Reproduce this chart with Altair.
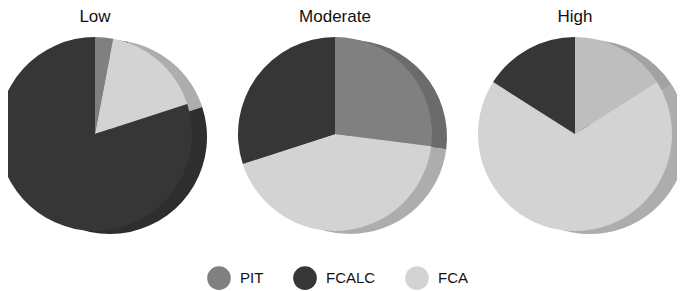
import altair as alt
import pandas as pd

levels = ["Low", "Moderate", "High"]
categories = ["PIT", "FCA", "FCALC"]
low_values = [3, 17, 80]
moderate_values = [27, 43, 30]
high_values = [16, 68, 16]

legend_order = ["PIT", "FCALC", "FCA"]
main_colors = ["#808080", "#363636", "#d3d3d3"]
shadow_colors = ["#6b6b6b", "#2e2e2e", "#adadad"]

rows = []
for lvl, vals in zip(levels, [low_values, moderate_values, high_values]):
    for cat, v in zip(categories, vals):
        rows.append({"level": lvl, "category": cat, "value": v})
df = pd.DataFrame(rows)
titles = pd.DataFrame({"level": levels})

domain = legend_order + [c + "_s" for c in legend_order]
color_scale = alt.Scale(domain=domain, range=main_colors + shadow_colors)

legend = alt.Legend(
    values=legend_order, title=None,
    orient="none", direction="horizontal",
    legendX=199, legendY=258,
    symbolType="circle", symbolSize=560,
    symbolStrokeWidth=0, symbolOpacity=1,
    labelFontSize=15, labelFont="Liberation Sans",
    labelColor="#111", labelOffset=9,
    columnPadding=29,
)

fade = (alt.datum.level == "High") & (alt.datum.category == "PIT")

R = 97
CY = 126

x_main = alt.X("level:N", axis=None,
               scale=alt.Scale(type="point", domain=levels, range=[87, 567], padding=0))
x_shadow = alt.X("level:N", axis=None,
                 scale=alt.Scale(type="point", domain=levels, range=[102, 582], padding=0))

base = alt.Chart(df).transform_calculate(
    idx="indexof(['PIT','FCA','FCALC'], datum.category)",
    shade="datum.category + '_s'",
).transform_joinaggregate(
    total="sum(value)", groupby=["level"]
).transform_window(
    cum="sum(value)", groupby=["level"], sort=[alt.SortField("idx")], frame=[None, 0]
).transform_calculate(
    t0="2 * PI * (datum.cum - datum.value) / datum.total",
    t1="2 * PI * datum.cum / datum.total",
)

shadow = base.mark_arc(radius=R, stroke=None).encode(
    theta=alt.Theta("t0:Q", scale=None),
    theta2="t1:Q",
    color=alt.condition(fade, alt.value("#a2a2a2"),
                        alt.Color("shade:N", scale=color_scale, legend=legend)),
    x=x_shadow,
    y=alt.value(CY + 3),
)

main = base.mark_arc(radius=R, stroke=None).encode(
    theta=alt.Theta("t0:Q", scale=None),
    theta2="t1:Q",
    color=alt.condition(fade, alt.value("#bebebe"),
                        alt.Color("category:N", scale=color_scale, legend=legend)),
    x=x_main,
    y=alt.value(CY),
)

title_text = alt.Chart(titles).mark_text(
    fontSize=17, font="Liberation Sans", color="#111", baseline="top"
).encode(
    x=x_main,
    y=alt.value(1),
    text="level:N",
)

chart = alt.layer(shadow, main, title_text).resolve_scale(x="independent").properties(
    width=669, height=283,
    autosize=alt.AutoSizeParams(type="none"),
    padding=0,
).configure_view(stroke=None)

chart.save("out.html", embed_options={"renderer": "svg", "actions": False})
